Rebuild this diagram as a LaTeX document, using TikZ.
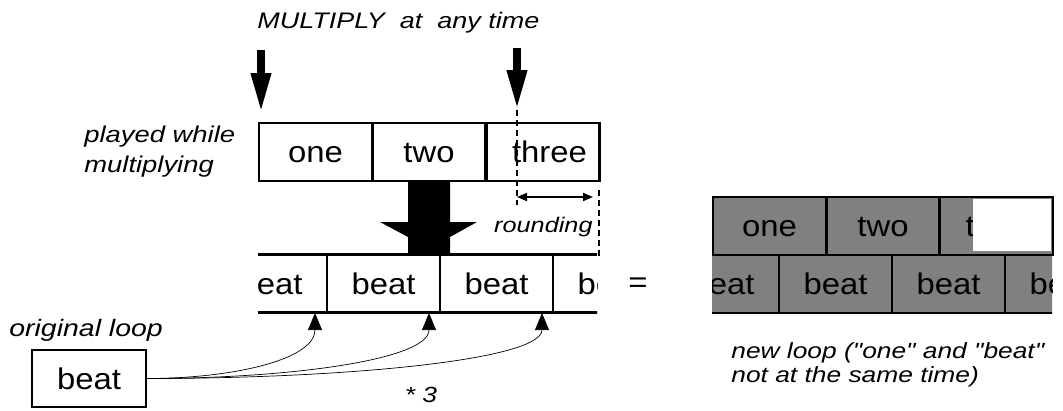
\documentclass[tikz,border=0pt]{standalone}
\usepackage{fontspec}
\newfontfamily\figfont[FakeStretch=1.2]{Liberation Sans}
\newfontfamily\cellfont[FakeStretch=1.1]{Liberation Sans}
\usetikzlibrary{arrows.meta}

\begin{document}
\begin{tikzpicture}[x=0.02cm,y=0.02cm,
 cell/.style={draw,line width=1.3pt,minimum width=2.26cm,minimum height=1.16cm,inner sep=0pt,text height=12.3pt,text depth=0pt,font=\cellfont\fontsize{17}{20}\selectfont},
 greycell/.style={cell,fill=gray},
 lbl/.style={font=\figfont\itshape\fontsize{#1}{#1}\selectfont,inner sep=0pt},
 lbl/.default=12.5,
 bigdown/.style={line width=0.16cm,-{Triangle[length=0.8cm,width=0.37cm]}},
 link/.style={line width=0.4pt,-{Triangle[length=0.34cm,width=0.28cm]}},
 cut/.style={line width=1pt,dash pattern=on 0.12cm off 0.08cm}]
 \useasboundingbox (0,0) rectangle (1063,-410);
 % labels
 \node[lbl=12.8,anchor=base west] (title) at (257,-28) {MULTIPLY~ at~ any time};
 \node[lbl=13,anchor=west,align=left] (played) at (84,-152) {played while\\[4pt]multiplying};
 \node[lbl=13.5,anchor=west] (origlbl) at (9,-330) {original loop};
 \node[lbl=12,anchor=east] (round) at (593,-227) {rounding};
 \node[lbl] (times) at (421,-395) {* 3};
 \node[lbl,anchor=west,align=left] (newlbl) at (731,-365) {new loop ("one" and "beat"\\[1.2pt]not at the same time)};
 % loop played while multiplying
 \node[cell] (one) at (315.5,-152) {one};
 \node[cell] (two) at (429,-152) {two};
 \node[cell] (three) at (543,-152) {\hspace*{0.26cm}three};
 % multiply arrows
 \coordinate (in1) at (261,-50);
 \coordinate (at1) at (261,-113);
 \coordinate (in2) at (517,-48);
 \coordinate (at2) at (517,-110);
 \draw[bigdown] (in1) -- (at1);
 \draw[bigdown] (in2) -- (at2);
 % rounding
 \coordinate (r1) at (517,-205);
 \coordinate (r2) at (599,-190);
 \coordinate (r3) at (599,-256);
 \coordinate (w1) at (517,-197);
 \coordinate (w2) at (593,-197);
 \draw[cut] (at2) -- (r1);
 \draw[cut] (r2) -- (r3);
 \draw[line width=1pt,{Triangle[length=0.2cm,width=0.16cm]}-{Triangle[length=0.2cm,width=0.16cm]}] (w1) -- (w2);
 % big arrow
 \fill (408,-181) -- (450,-181) -- (450,-222) -- (477,-222) -- (450,-237) -- (450,-254)
  -- (408,-254) -- (408,-237) -- (380,-222) -- (408,-222) -- cycle;
 % multiplied loop
 \begin{scope}
  \clip (258,-240) rectangle (597,-330);
  \node[cell] (b0) at (270.5,-283.5) {beat};
  \node[cell] (b1) at (383.5,-283.5) {beat};
  \node[cell] (b2) at (496.5,-283.5) {beat};
  \node[cell] (b3) at (609.5,-283.5) {beat};
 \end{scope}
 \node[font=\cellfont\fontsize{17}{20}\selectfont] (eq) at (638,-285) {=};
 % original loop
 \node[cell,minimum width=2.28cm,minimum height=1.14cm] (orig) at (89,-378.5) {beat};
 \coordinate (tip1) at (315,-313);
 \coordinate (tip2) at (429,-313);
 \coordinate (tip3) at (542,-313);
 \draw[link] (orig.east) .. controls +(84,0) and +(0,-47) .. (tip1);
 \draw[link] (orig.east) .. controls +(141,0) and +(0,-47) .. (tip2);
 \draw[link] (orig.east) .. controls +(198,0) and +(0,-47) .. (tip3);
 % new loop
 \node[greycell] (gone) at (769.5,-226) {one};
 \node[greycell] (gtwo) at (883,-226) {two};
 \node[greycell] (gthree) at (996.5,-226) {\hspace*{0.26cm}three};
 \fill[white] (973,-199) rectangle (1051,-251);
 \begin{scope}
  \clip (712,-240) rectangle (1052,-330);
  \node[greycell] (g0) at (722.5,-284) {beat};
  \node[greycell] (g1) at (835.5,-284) {beat};
  \node[greycell] (g2) at (948.5,-284) {beat};
  \node[greycell] (g3) at (1061.5,-284) {beat};
 \end{scope}
\end{tikzpicture}
\end{document}
